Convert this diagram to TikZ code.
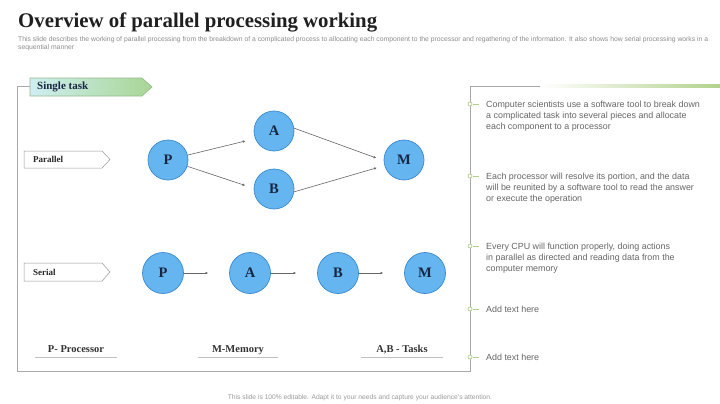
\documentclass[tikz,border=0pt]{standalone}
\usepackage{fontspec}
\setmainfont{Liberation Serif}
\setsansfont{Liberation Sans}
\usepackage{tikz}
\usetikzlibrary{arrows.meta,positioning}
\definecolor{procblue}{RGB}{100,181,240}
\definecolor{procedge}{RGB}{58,136,205}
\definecolor{procink}{RGB}{24,38,66}
\definecolor{tagcyan}{RGB}{206,238,242}
\definecolor{taggreen}{RGB}{168,214,148}
\definecolor{tagedge}{RGB}{150,185,140}
\definecolor{panelgray}{RGB}{168,168,168}
\definecolor{leafgreen}{RGB}{178,210,140}

\begin{document}
\begin{tikzpicture}[x=1pt,y=-1pt,
  proc/.style={circle,draw=procedge,line width=0.7pt,fill=procblue,minimum size=40pt,inner sep=0pt,text=procink,font=\fontsize{14.5}{14.5}\selectfont\bfseries},
  flow/.style={draw=black!60,line width=0.6pt,-{Latex[length=2.6pt,width=2.6pt]}},
  modetag/.style={draw=black!40,fill=white,line width=0.5pt},
  modetext/.style={anchor=west,inner sep=0pt,text=black!85,font=\fontsize{9}{9}\selectfont\bfseries},
  legend/.style={anchor=base,inner sep=0pt,text=black!80,font=\fontsize{10.5}{10.5}\selectfont\bfseries},
  legendline/.style={draw=black!25,line width=0.6pt},
  note/.style={anchor=north west,inner sep=0pt,align=left,text=black!60,font=\sffamily\fontsize{8.9}{11.2}\selectfont},
  marker/.style={draw=leafgreen,line width=0.7pt},
  frame/.style={draw=panelgray,line width=0.7pt}]
\useasboundingbox (0,0) rectangle (720,404);
\fill[white] (0,0) rectangle (720,404);
% titre
\node[anchor=base west,inner sep=0pt,text=black!88,font=\fontsize{20.8}{24}\selectfont\bfseries] (title) at (18,28)
  {Overview of parallel processing working};
\node[anchor=north west,inner sep=0pt,align=left,text=black!45,font=\sffamily\fontsize{6.8}{8.2}\selectfont] (subtitle) at (18,36.5)
  {This slide describes the working of parallel processing from the breakdown of a complicated process to allocating each component to the processor and regathering of the information. It also shows how serial processing works in a\\sequential manner};
% cadre
\draw[frame] (30,86) -- (17,86) -- (17,371) -- (470,371) -- (470,86) -- (720,86);
\shade[left color=white,right color=leafgreen] (540,84.8) rectangle (720,87.6);
\draw[left color=tagcyan,right color=taggreen,draw=tagedge,line width=0.6pt]
  (30,78) -- (142,78) -- (152,87) -- (142,96) -- (30,96) -- cycle;
\node[modetext,text=procink,font=\fontsize{11}{11}\selectfont\bfseries] (single) at (37,87) {Single task};
% parallele
\draw[modetag] (24,151) -- (102,151) -- (110,159.5) -- (102,168) -- (24,168) -- cycle;
\node[modetext] (parallel) at (33,159.5) {Parallel};
\node[proc] (pP) at (168,160) {P};
\node[proc] (pA) at (274,131) {A};
\node[proc] (pB) at (274,189) {B};
\node[proc] (pM) at (404,160) {M};
\draw[flow,shorten >=10pt] (pP.14) -- (pA.202);
\draw[flow,shorten >=9pt] (pP.-18) -- (pB.178);
\draw[flow,shorten >=8pt] (pA.8) -- (pM.182);
\draw[flow,shorten >=8pt] (pB.-8) -- (pM.196);
% serie
\draw[modetag] (24,263) -- (102,263) -- (110,272) -- (102,281) -- (24,281) -- cycle;
\node[modetext] (serial) at (33,272) {Serial};
\node[proc,minimum size=41pt] (sP) at (163,273) {P};
\node[proc,minimum size=41pt] (sA) at (250,273) {A};
\node[proc,minimum size=41pt] (sB) at (338,273) {B};
\node[proc,minimum size=41pt] (sM) at (425,273) {M};
\draw[flow,shorten >=21pt] (sP) -- (sA);
\draw[flow,shorten >=21pt] (sA) -- (sB);
\draw[flow,shorten >=21pt] (sB) -- (sM);
% legende
\node[legend] (lgP) at (76,352) {P- Processor};
\node[legend] (lgM) at (238,352) {M-Memory};
\node[legend] (lgAB) at (402,352) {A,B - Tasks};
\draw[legendline] (35,357) -- (117,357);
\draw[legendline] (198,357) -- (278,357);
\draw[legendline] (361,357) -- (443,357);
% notes
\foreach \y in {104,176,246,309,357} {
  \draw[marker,fill=white] (470,\y) circle (2pt);
  \draw[marker] (473,\y) -- (479,\y);
}
\node[note] (note1) at (486,100.5) {Computer scientists use a software tool to break down\\a complicated task into several pieces and allocate\\each component to a processor};
\node[note] (note2) at (486,172.5) {Each processor will resolve its portion, and the data\\will be reunited by a software tool to read the answer\\or execute the operation};
\node[note] (note3) at (486,242.5) {Every CPU will function properly, doing actions\\in parallel as directed and reading data from the\\computer memory};
\node[note] (note4) at (486,305.5) {Add text here};
\node[note] (note5) at (486,353.5) {Add text here};
\node[anchor=base,inner sep=0pt,text=black!40,font=\sffamily\fontsize{6.7}{7}\selectfont] (footer) at (360,399)
  {This slide is 100\% editable. Adapt it to your needs and capture your audience's attention.};
\end{tikzpicture}
\end{document}
